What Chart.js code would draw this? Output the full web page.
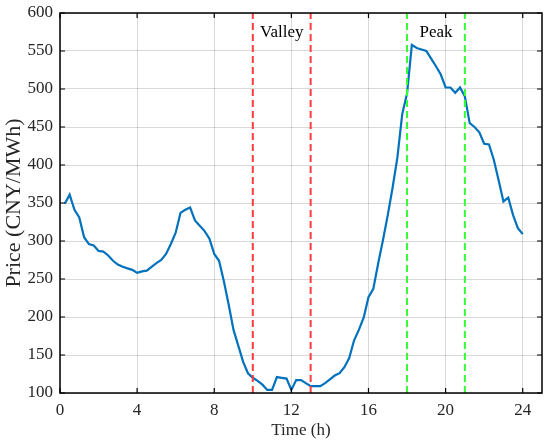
<!DOCTYPE html>
<html>
<head>
<meta charset="utf-8">
<script src="https://cdn.jsdelivr.net/npm/chart.js@4/dist/chart.umd.min.js"></script>
<style>
  body { margin: 0; background: #fff; }
  #wrap { width: 550px; height: 442px; }
</style>
</head>
<body>
<div id="wrap"><canvas id="priceChart"></canvas></div>
<script>
// time of day (h), one point every 15 min
var hours = [];
for (var i = 1; i <= 96; i++) hours.push(i / 4);

// price, CNY/MWh
var prices = [
  349, 361, 341, 331, 305, 296, 294, 287, 286, 281, 274, 269,
  266, 264, 262, 258, 260, 261, 266, 271, 275, 283, 296, 311,
  337, 341, 344, 327, 320, 313, 303, 283, 274, 247, 216, 183,
  162, 141, 126, 120, 116, 111, 104, 104, 121, 120, 119, 104,
  117, 117, 113, 109, 109, 109, 113, 118, 123, 126, 134, 146,
  169, 183, 199, 226, 237, 270, 301, 334, 370, 410, 467, 494,
  558, 554, 552, 550, 540, 530, 519, 502, 502, 495, 502, 490,
  455, 450, 443, 428, 427, 407, 380, 352, 357, 334, 317, 309
];

var valleyHours = [10, 13];
var peakHours = [18, 21];
var xTicks = [0, 4, 8, 12, 16, 20, 24];
var yTicks = [100, 150, 200, 250, 300, 350, 400, 450, 500, 550, 600];
var bandLabels = [
  { text: 'Valley', x: 11.5, y: 574 },
  { text: 'Peak', x: 19.5, y: 574 }
];

var serif = "'Liberation Serif', 'Times New Roman', serif";

var priceData = hours.map(function (h, i) { return { x: h, y: prices[i] }; });

function vline(x, color) {
  return {
    data: [{ x: x, y: 100 }, { x: x, y: 600 }],
    borderColor: color,
    borderWidth: 2,
    borderDash: [7, 4],
    pointRadius: 0,
    order: 0
  };
}

var datasets = [{
  data: priceData,
  borderColor: '#0072BD',
  borderWidth: 2.2,
  pointRadius: 0,
  tension: 0,
  order: 1
}];
valleyHours.forEach(function (h) { datasets.push(vline(h, '#ff3b3b')); });
peakHours.forEach(function (h) { datasets.push(vline(h, '#33ff33')); });

// box round the axes, inward ticks and the two band labels
var boxPlugin = {
  id: 'box',
  afterDraw: function (chart) {
    var ctx = chart.ctx, a = chart.chartArea;
    var xs = chart.scales.x, ys = chart.scales.y;
    ctx.save();
    ctx.strokeStyle = '#000';
    ctx.lineWidth = 1.5;
    ctx.strokeRect(a.left, a.top, a.right - a.left, a.bottom - a.top);
    ctx.lineWidth = 1.2;
    ctx.beginPath();
    xTicks.forEach(function (t) {
      var px = xs.getPixelForValue(t);
      ctx.moveTo(px, a.bottom); ctx.lineTo(px, a.bottom - 5);
      ctx.moveTo(px, a.top); ctx.lineTo(px, a.top + 5);
    });
    yTicks.forEach(function (t) {
      var py = ys.getPixelForValue(t);
      ctx.moveTo(a.left, py); ctx.lineTo(a.left + 5, py);
      ctx.moveTo(a.right, py); ctx.lineTo(a.right - 5, py);
    });
    ctx.stroke();
    ctx.fillStyle = '#000';
    ctx.font = '17px ' + serif;
    ctx.textAlign = 'center';
    ctx.textBaseline = 'middle';
    bandLabels.forEach(function (l) {
      ctx.fillText(l.text, xs.getPixelForValue(l.x), ys.getPixelForValue(l.y));
    });
    ctx.restore();
  }
};

var ctx = document.getElementById('priceChart').getContext('2d');
var priceChart = new Chart(ctx, {
  type: 'line',
  data: { datasets: datasets },
  options: {
    responsive: true,
    maintainAspectRatio: false,
    animation: false,
    layout: { padding: { top: 13, right: 8, left: 0, bottom: 0 } },
    plugins: { legend: { display: false }, tooltip: { enabled: false } },
    scales: {
      x: {
        type: 'linear',
        min: 0,
        max: 25,
        afterBuildTicks: function (s) { s.ticks = xTicks.map(function (v) { return { value: v }; }); },
        afterFit: function (s) { s.height = 49; s.paddingLeft = 0; s.paddingRight = 0; },
        ticks: { color: '#262626', font: { family: serif, size: 17 }, padding: 7, maxRotation: 0 },
        grid: { color: 'rgba(0,0,0,0.15)', lineWidth: 1, drawTicks: false },
        border: { display: false },
        title: { display: true, text: 'Time (h)', color: '#262626', font: { family: serif, size: 17 }, padding: { top: 0, bottom: 1 } }
      },
      y: {
        min: 100,
        max: 600,
        afterBuildTicks: function (s) { s.ticks = yTicks.map(function (v) { return { value: v }; }); },
        afterFit: function (s) { s.width = 60; s.paddingTop = 0; s.paddingBottom = 0; },
        ticks: { color: '#262626', font: { family: serif, size: 17 }, padding: 7 },
        grid: { color: 'rgba(0,0,0,0.15)', lineWidth: 1, drawTicks: false },
        border: { display: false },
        title: { display: true, text: 'Price (CNY/MWh)', color: '#262626', font: { family: serif, size: 22 }, padding: { top: 1, bottom: 0 } }
      }
    }
  },
  plugins: [boxPlugin]
});
</script>
</body>
</html>
